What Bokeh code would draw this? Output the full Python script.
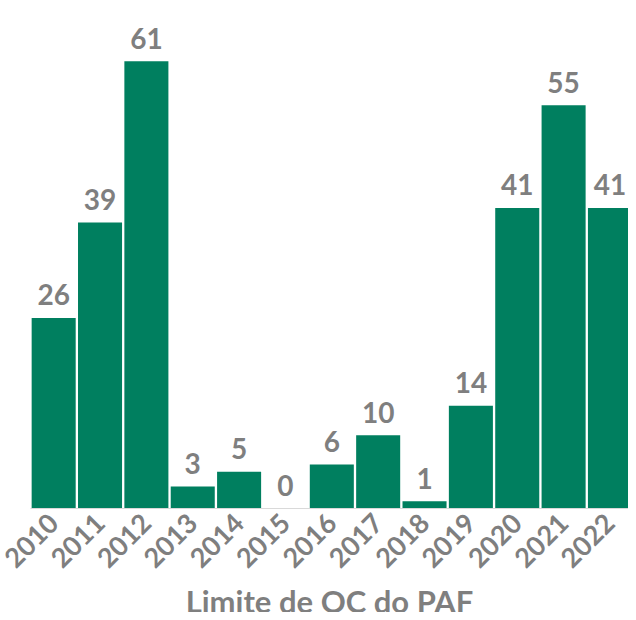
import math
from bokeh.plotting import figure
from bokeh.models import ColumnDataSource, Range1d, FixedTicker
from bokeh.core.properties import value
from bokeh.embed import file_html
from bokeh.resources import INLINE

years = ["2010", "2011", "2012", "2013", "2014", "2015", "2016",
         "2017", "2018", "2019", "2020", "2021", "2022"]
counts = [26, 39, 61, 3, 5, 0, 6, 10, 1, 14, 41, 55, 41]
axis_title = "Limite de OC do PAF"

GREEN = "#007F5F"
GRAY = "#7F7F7F"
FONT = "Lato"

xs = [i + 0.5 for i in range(len(years))]
src = ColumnDataSource(dict(x=xs, top=counts, label=[str(c) for c in counts]))

X_START, X_END = -0.647, 12.9
Y_START, Y_END = -14.19, 69.3
p = figure(width=628, height=612, output_backend="svg", toolbar_location=None,
           title=None,
           x_range=Range1d(X_START, X_END), y_range=Range1d(Y_START, Y_END),
           min_border_left=0, min_border_right=0, min_border_top=0,
           min_border_bottom=0)

p.vbar(x="x", top="top", bottom=0, width=0.95, source=src,
       fill_color=GREEN, line_color=None)

p.text(x="x", y="top", text="label", source=src, text_align="center",
       text_baseline="alphabetic", y_offset=-23,
       text_font=value(FONT), text_font_style="bold",
       text_font_size="28px", text_color=GRAY)

# axis title below the tick labels
p.text(x=[X_END / 2], y=[0], text=[axis_title], text_align="center",
       text_baseline="alphabetic", y_offset=93,
       text_font=value(FONT), text_font_style="bold",
       text_font_size="31px", text_color=GRAY)

ax = p.xaxis[0]
ax.fixed_location = 0
ax.bounds = (0, X_END)
ax.ticker = FixedTicker(ticks=xs)
ax.major_label_overrides = {x: y for x, y in zip(xs, years)}
ax.major_label_orientation = math.pi / 4
ax.major_label_text_font = FONT
ax.major_label_text_font_style = "bold"
ax.major_label_text_font_size = "27px"
ax.major_label_text_color = GRAY
ax.major_label_standoff = 4
ax.major_tick_line_color = None
ax.minor_tick_line_color = None
ax.axis_line_color = "#D9D9D9"

p.yaxis.visible = False
p.xgrid.visible = False
p.ygrid.visible = False
p.outline_line_color = None

open("out.html", "w").write(file_html(p, INLINE))
